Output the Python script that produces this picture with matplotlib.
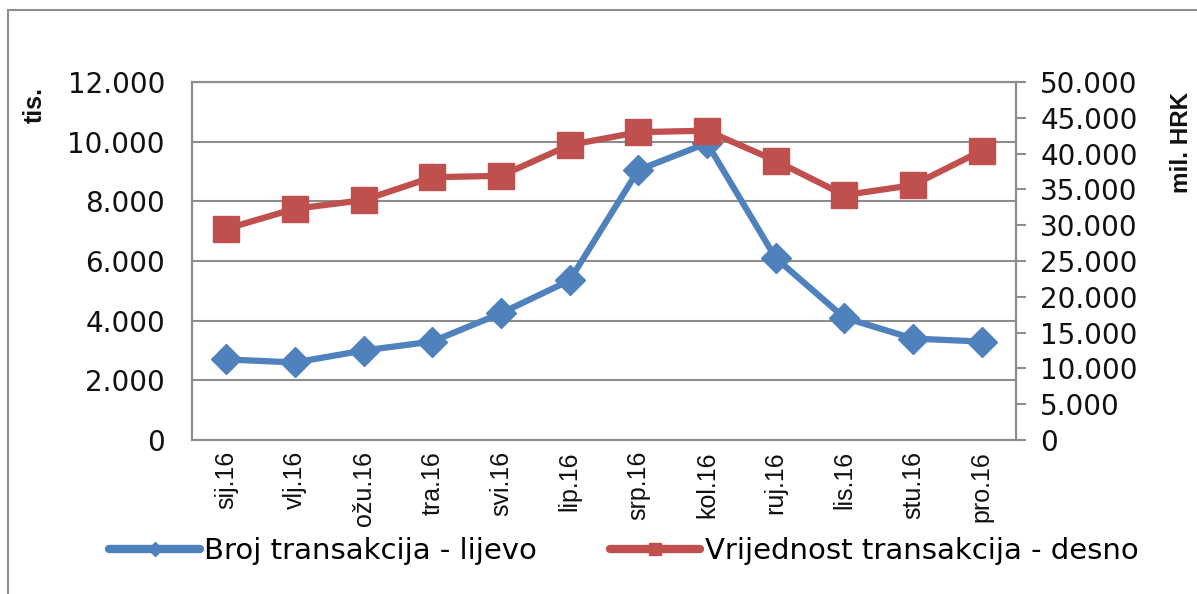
import matplotlib
matplotlib.use("Agg")
import matplotlib.pyplot as plt
from matplotlib.lines import Line2D
from matplotlib.patches import Rectangle

months = ["sij.16", "vlj.16", "ožu.16", "tra.16", "svi.16", "lip.16",
          "srp.16", "kol.16", "ruj.16", "lis.16", "stu.16", "pro.16"]
broj = [2700, 2600, 3000, 3300, 4250, 5350, 9050, 9950, 6100, 4100, 3400, 3300]
vrijednost = [29500, 32300, 33500, 36700, 36900, 41200, 43000, 43200, 39000, 34200, 35600, 40400]
left_ticks = [0, 2000, 4000, 6000, 8000, 10000, 12000]
right_ticks = [0, 5000, 10000, 15000, 20000, 25000, 30000, 35000, 40000, 45000, 50000]

BLUE = "#4F81BD"
RED = "#C0504D"
GRID = "#8C8C8C"

def fmt(v):
    return f"{v:,}".replace(",", ".")

plt.rcParams["font.family"] = ["DejaVu Sans"]

fig = plt.figure(figsize=(11.97, 5.94), dpi=100)
fig.patches.append(Rectangle((8 / 1197, -0.1), 1.2, 1 - 10 / 594 + 0.1,
                             transform=fig.transFigure, fill=False,
                             edgecolor="#8C8C8C", linewidth=1.5))

ax = fig.add_axes([192 / 1197, 1 - 440 / 594, (1016 - 192) / 1197, (440 - 82) / 594])
ax2 = ax.twinx()

x = list(range(len(months)))
ax.plot(x, broj, color=BLUE, linewidth=4.5, marker="D", markersize=15,
        solid_joinstyle="round", zorder=3)
ax2.plot(x, vrijednost, color=RED, linewidth=4.5, marker="s", markersize=19,
         solid_joinstyle="round", zorder=3)

ax.set_xlim(-0.5, len(months) - 0.5)
ax.set_ylim(0, 12000)
ax2.set_ylim(0, 50000)

ax.set_yticks(left_ticks)
ax.set_yticklabels([fmt(v) for v in left_ticks], fontsize=20, color="#111111")
ax2.set_yticks(right_ticks)
ax2.set_yticklabels([fmt(v) for v in right_ticks], fontsize=20, color="#111111")
ax.set_xticks(x)
ax.set_xticklabels(months, rotation=90, fontsize=18, color="#111111",
                   family=["Liberation Sans", "DejaVu Sans"])

ax.grid(axis="y", color=GRID, linewidth=1.5)
ax.set_axisbelow(True)
ax.tick_params(axis="y", length=0, pad=19.5)
ax.tick_params(axis="x", length=0, pad=8)
ax2.tick_params(axis="y", length=7, width=1.5, color=GRID, pad=10.5, direction="out")

for a in (ax, ax2):
    for s in a.spines.values():
        s.set_color(GRID)
        s.set_linewidth(1.5)

fig.text(35 / 1197, 1 - 105 / 594, "tis.", rotation=90, ha="center", va="center",
         fontsize=18, fontweight="bold", color="#111111",
         family=["Liberation Sans", "DejaVu Sans"])
fig.text(1182 / 1197, 1 - 142 / 594, "mil. HRK", rotation=90, ha="center", va="center",
         fontsize=17.5, fontweight="bold", color="#111111",
         family=["Liberation Sans", "DejaVu Sans"])

handles = [
    Line2D([], [], color=BLUE, linewidth=6, marker="D", markersize=7,
           solid_capstyle="round"),
    Line2D([], [], color=RED, linewidth=6, marker="s", markersize=8,
           solid_capstyle="round"),
]
fig.legend(handles, ["Broj transakcija - lijevo", "Vrijednost transakcija - desno"],
           loc="center", bbox_to_anchor=(624 / 1197, 1 - 551 / 594), ncol=2,
           frameon=False, fontsize=21, handlelength=3.1, handletextpad=0.15,
           columnspacing=2.5, borderpad=0, borderaxespad=0)

fig.savefig("out.png", dpi=100)
